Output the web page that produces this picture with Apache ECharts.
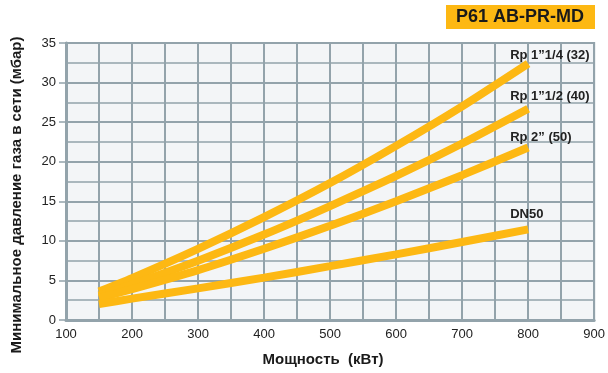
<!DOCTYPE html>
<html><head><meta charset="utf-8">
<script src="https://cdn.jsdelivr.net/npm/echarts@6/dist/echarts.min.js"></script>
<style>html,body{margin:0;padding:0;background:#fff}#c{width:608px;height:373px}</style>
</head><body><div id="c"></div>
<script>
const power = [150, 200, 300, 400, 500, 600, 700, 800];
const seriesNames = ['Rp 1\u201d1/4 (32)', 'Rp 1\u201d1/2 (40)', 'Rp 2\u201d (50)', 'DN50'];
const rp114 = [3.6, 5.3, 9.0, 13.0, 17.3, 22.0, 27.0, 32.4];
const rp112 = [3.1, 4.5, 7.5, 10.8, 14.4, 18.2, 22.3, 26.7];
const rp2   = [2.8, 3.9, 6.3, 9.0, 11.9, 15.0, 18.3, 21.8];
const dn50  = [2.0, 2.7, 4.0, 5.35, 6.8, 8.3, 9.85, 11.45];
const xTicks = [100, 900];
const yTicks = [0, 35];
const title = 'P61 AB-PR-MD';
const xName = 'Мощность  (кВт)';
const yName = 'Минимальное давление газа в сети (мбар)';

const values = [rp114, rp112, rp2, dn50];
const labelOffsets = [[-26, -8], [-26, -12], [-26, -10], [-26, -15]];
const gridColor = '#93A3AB';
const chart = echarts.init(document.getElementById('c'));
chart.setOption({
  animation: false,
  grid: {left: 66, right: 13, top: 43, bottom: 53, show: true, backgroundColor: '#F3F5F7', borderColor: gridColor, borderWidth: 2},
  xAxis: {
    type: 'value', min: xTicks[0], max: xTicks[1], interval: 100,
    axisLine: {show: true, lineStyle: {color: gridColor, width: 3}},
    axisTick: {show: false},
    axisLabel: {color: '#222', fontFamily: 'Liberation Sans', fontSize: 13, margin: 8},
    splitLine: {show: true, lineStyle: {color: gridColor, width: 2}},
    minorSplitLine: {show: true, lineStyle: {color: gridColor, width: 2}},
    minorTick: {show: false, splitNumber: 2}
  },
  yAxis: {
    type: 'value', min: yTicks[0], max: yTicks[1], interval: 5,
    axisLine: {show: true, lineStyle: {color: gridColor, width: 3}},
    axisTick: {show: true, length: 7, lineStyle: {color: gridColor, width: 1.5}},
    axisLabel: {color: '#222', fontFamily: 'Liberation Sans', fontSize: 13, margin: 10},
    splitLine: {show: true, lineStyle: {color: gridColor, width: 2}},
    minorSplitLine: {show: true, lineStyle: {color: gridColor, width: 1.5}},
    minorTick: {show: false, splitNumber: 2}
  },
  graphic: [
    {type: 'rect', shape: {x: 446, y: 5, width: 149, height: 24}, style: {fill: '#FDB813'}},
    {type: 'text', x: 520, y: 17, style: {text: title, fill: '#1a1a1a', font: 'bold 18px "Liberation Sans"', textAlign: 'center', textVerticalAlign: 'middle'}},
    {type: 'text', x: 323, y: 360, style: {text: xName, fill: '#1a1a1a', font: 'bold 15px "Liberation Sans"', textAlign: 'center', textVerticalAlign: 'middle'}},
    {type: 'text', x: 17, y: 195, rotation: Math.PI / 2, style: {text: yName, fill: '#1a1a1a', font: 'bold 15px "Liberation Sans"', textAlign: 'center', textVerticalAlign: 'middle'}}
  ],
  series: values.map((v, i) => ({
    type: 'line', name: seriesNames[i], smooth: 0.2, symbol: 'none',
    data: power.map((p, j) => [p, v[j]]),
    lineStyle: {color: '#FDB813', width: 8, cap: 'butt'},
    endLabel: {show: true, formatter: seriesNames[i], offset: labelOffsets[i], color: '#222', fontFamily: 'Liberation Sans', fontWeight: 'bold', fontSize: 13}
  }))
});
</script></body></html>
